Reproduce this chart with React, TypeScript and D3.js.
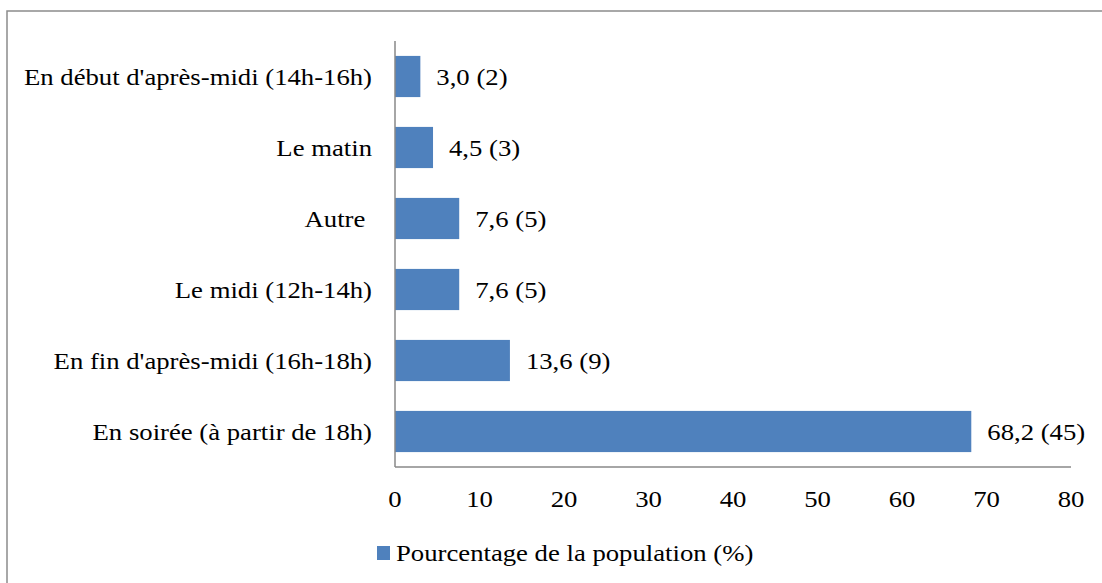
import React from "react";
import * as d3 from "d3";

const categories = [
  "En début d'après-midi (14h-16h)",
  "Le matin",
  "Autre ",
  "Le midi (12h-14h)",
  "En fin d'après-midi (16h-18h)",
  "En soirée (à partir de 18h)",
];
const values = [3.0, 4.5, 7.6, 7.6, 13.6, 68.2];
const counts = [2, 3, 5, 5, 9, 45];
const xTicks = [0, 10, 20, 30, 40, 50, 60, 70, 80];
const seriesName = "Pourcentage de la population (%)";

const W = 1102;
const H = 583;
const plot = { left: 395, right: 1071, top: 41, bottom: 467 };
const font = "Liberation Serif";
const fs = 24;
const sx = 1.113;
const barColor = "#4F81BD";

function T(props: {
  x: number;
  y: number;
  anchor?: "start" | "middle" | "end";
  dy?: string;
  children: React.ReactNode;
}) {
  return (
    <text
      transform={`translate(${props.x},${props.y}) scale(${sx},1)`}
      dy={props.dy}
      textAnchor={props.anchor || "start"}
      fontFamily={font}
      fontSize={fs}
      fill="#000"
      style={{ whiteSpace: "pre" }}
    >
      {props.children}
    </text>
  );
}

export default function App() {
  const x = d3.scaleLinear().domain([0, 80]).range([plot.left, plot.right]);
  const y = d3
    .scaleBand<string>()
    .domain(categories)
    .range([plot.top, plot.bottom])
    .paddingInner(0.42)
    .paddingOuter(0.21);
  const fmt = (v: number) => v.toFixed(1).replace(".", ",");

  return (
    <svg width={W} height={H} style={{ position: "absolute", left: 0, top: 0, background: "#fff" }}>
      <rect x={7} y={11} width={W + 20} height={H + 20} fill="#fff" stroke="#8c8c8c" strokeWidth={1.5} />
      {categories.map((c, i) => (
        <g key={c}>
          <rect x={x(0)} y={y(c)!} width={x(values[i]) - x(0)} height={y.bandwidth()} fill={barColor} />
          <T x={plot.left - 23} y={y(c)! + y.bandwidth() / 2} dy="0.35em" anchor="end">
            {c}
          </T>
          <T x={x(values[i]) + 16} y={y(c)! + y.bandwidth() / 2} dy="0.35em">
            {`${fmt(values[i])} (${counts[i]})`}
          </T>
        </g>
      ))}
      <line x1={plot.left} x2={plot.left} y1={plot.top} y2={plot.bottom} stroke="#888" strokeWidth={1.5} />
      <line x1={plot.left} x2={plot.right} y1={plot.bottom} y2={plot.bottom} stroke="#888" strokeWidth={1.5} />
      {xTicks.map((t) => (
        <T key={t} x={x(t)} y={507} anchor="middle">
          {t}
        </T>
      ))}
      <rect x={377} y={546} width={13} height={14} fill={barColor} />
      <T x={396} y={553} dy="0.35em">
        {seriesName}
      </T>
    </svg>
  );
}
